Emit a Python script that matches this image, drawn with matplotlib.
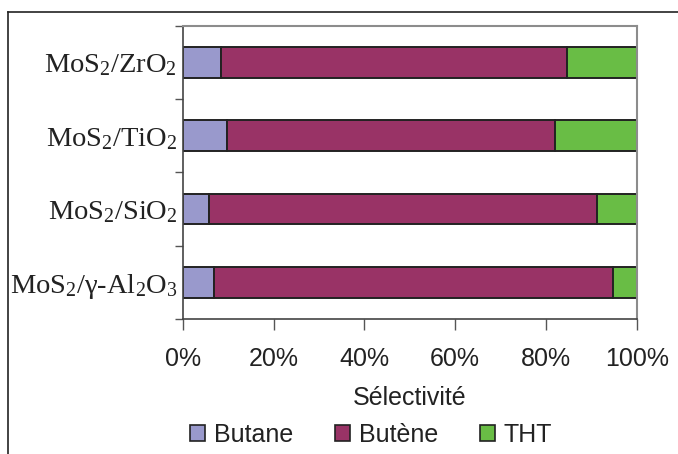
import numpy as np
import matplotlib
matplotlib.use("Agg")
import matplotlib.pyplot as plt
from matplotlib.patches import Patch
from matplotlib.lines import Line2D

# selectivity (%) per catalyst
catalysts = [r"MoS$_2$/γ-Al$_2$O$_3$", r"MoS$_2$/SiO$_2$", r"MoS$_2$/TiO$_2$", r"MoS$_2$/ZrO$_2$"]
butane = [7.0, 5.8, 9.7, 8.4]
butene = [87.7, 85.5, 72.3, 76.2]
tht = [5.3, 8.7, 18.0, 15.4]

series = ["Butane", "Butène", "THT"]
colors = ["#9999CC", "#993366", "#69BD45"]

plt.rcParams["font.family"] = ["Liberation Sans", "DejaVu Sans"]
plt.rcParams["mathtext.fontset"] = "custom"
plt.rcParams["mathtext.rm"] = "Liberation Serif"
plt.rcParams["mathtext.it"] = "Liberation Serif:italic"

fig = plt.figure(figsize=(6.78, 4.54), dpi=100)
ax = fig.add_axes([0.2695, 0.2974, 0.6695, 0.6453])

y = np.arange(len(catalysts))
left = np.zeros(len(catalysts))
for vals, col in zip([butane, butene, tht], colors):
    ax.barh(y, vals, left=left, height=0.42, color=col, edgecolor="#222222", linewidth=1.4)
    left += np.array(vals)

ax.set_xlim(0, 100)
ax.set_ylim(-0.5, len(catalysts) - 0.5)
ax.set_xticks(np.arange(0, 101, 20))
ax.set_xticklabels([f"{v}%" for v in range(0, 101, 20)], fontsize=18, color="#222222")
ax.set_xlabel("Sélectivité", fontsize=18, color="#222222", labelpad=11)

# category labels in serif, ticks between categories
ax.set_yticks(y)
ax.set_yticklabels(catalysts, fontsize=20.5, family="Liberation Serif", color="#222222")
ax.tick_params(axis="y", length=0, pad=4)
ax.set_yticks(np.arange(-0.5, len(catalysts), 1.0), minor=True)
ax.tick_params(axis="y", which="minor", length=6, width=1, color="#555555", direction="out")
ax.tick_params(axis="x", length=8, width=1, color="#555555", direction="out", pad=12)

for s in ["top", "right"]:
    ax.spines[s].set_color("#8c8c8c")
    ax.spines[s].set_linewidth(1.5)
for s in ["left", "bottom"]:
    ax.spines[s].set_color("#444444")
    ax.spines[s].set_linewidth(1.2)

handles = [Patch(facecolor=c, edgecolor="#222222", linewidth=1.2) for c in colors]
fig.legend(handles, series, loc="center", bbox_to_anchor=(371 / 678, 1 - 435 / 454),
           ncol=3, frameon=False, fontsize=18, handlelength=0.6, handleheight=0.6,
           handletextpad=0.36, columnspacing=1.68, labelcolor="#222222",
           borderpad=0, borderaxespad=0)

# outer frame (only top and left edges visible)
fig.add_artist(Line2D([8 / 678, 8 / 678], [0, 1 - 12 / 454], transform=fig.transFigure,
                      color="#222222", linewidth=1.2))
fig.add_artist(Line2D([8 / 678, 1], [1 - 12 / 454, 1 - 12 / 454], transform=fig.transFigure,
                      color="#222222", linewidth=1.2))

fig.savefig("out.png", dpi=100)
